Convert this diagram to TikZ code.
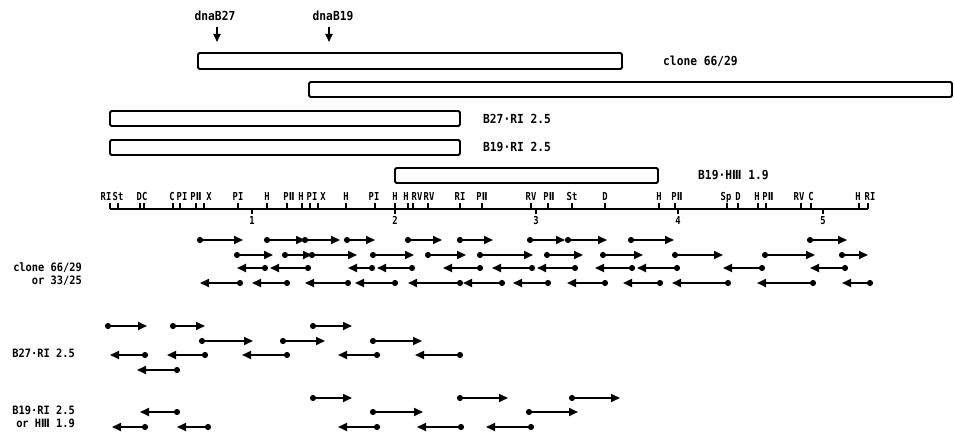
\documentclass[tikz,border=0pt]{standalone}
\usepackage{fontspec}
\setmainfont{DejaVu Sans Mono}
\newfontfamily\labfont{DejaVu Sans Mono}[FakeStretch=0.9]
\newfontfamily\sitefont{DejaVu Sans Mono}[FakeStretch=0.8]
\newfontfamily\romfont{DejaVu Sans}[FakeStretch=0.8]
\usepackage{tikz}
\usetikzlibrary{arrows.meta}
\newcommand{\romII}{{\romfont Ⅱ}}
\newcommand{\romIII}{{\romfont Ⅲ}}
\tikzset{
  clonebar/.style={draw, line width=1.8pt, rounded corners=1.5pt},
  toplab/.style={font=\labfont\fontsize{12.5}{14}\selectfont\bfseries, inner sep=0pt},
  sidelab/.style={font=\labfont\fontsize{11.5}{13.5}\selectfont\bfseries, inner sep=0pt, align=right},
  sitelab/.style={font=\sitefont\fontsize{11}{12}\selectfont\bfseries, inner sep=0pt, anchor=base},
  mapline/.style={line width=1.5pt},
  maptick/.style={line width=1.2pt},
  readarrow/.style={{Circle[length=6pt]}-{Triangle[length=9pt,width=8pt]},
                    line width=2pt, shorten <=-3pt},
  dnaarrow/.style={-{Triangle[length=8pt,width=7pt]}, line width=1.7pt, shorten <=6pt},
}

\begin{document}
\begin{tikzpicture}[x=1pt, y=-1pt]
  \useasboundingbox (0,0) rectangle (954,435);

  % dna mutations
  \node[toplab] (b27lab) at (215,16) {dnaB27};
  \node[toplab] (b19lab) at (333,16) {dnaB19};
  \coordinate (b27site) at (217,42);
  \coordinate (b19site) at (329,42);
  \draw[dnaarrow] (b27lab.south -| b27site) -- (b27site);
  \draw[dnaarrow] (b19lab.south -| b19site) -- (b19site);

  % clones and subclones
  \draw[clonebar] (198,53) rectangle (622,69);
  \draw[clonebar] (309,82) rectangle (952,97);
  \draw[clonebar] (110,111) rectangle (460,126);
  \draw[clonebar] (110,140) rectangle (460,155);
  \draw[clonebar] (395,168) rectangle (658,183);
  \node[toplab, anchor=west] (clonelab) at (663,61) {clone 66/29};
  \node[toplab, anchor=west] (b27rilab) at (483,119) {B27·RI 2.5};
  \node[toplab, anchor=west] (b19rilab) at (483,147) {B19·RI 2.5};
  \node[toplab, anchor=west] (b19hlab) at (698,175) {B19·H\romIII{} 1.9};

  % restriction map
  \draw[mapline] (110,209) -- (868,209);
  \foreach \t/\x/\l in {110/106/RI, 118/118/St, 140/142/DC, 173/172/C, 180/182/PI,
      196/196/P\romII, 204/209/X, 238/238/PI, 267/267/H, 287/289/P\romII,
      302/301/H, 310/312/PI, 318/323/X, 346/346/H, 375/374/PI, 395/395/H,
      408/406/H, 413/417/RV, 428/429/RV, 460/460/RI, 482/482/P\romII,
      531/531/RV, 548/549/P\romII, 572/572/St, 605/605/D, 659/659/H,
      675/677/P\romII, 727/726/Sp, 738/738/D, 758/757/H, 766/768/P\romII,
      801/799/RV, 811/811/C, 859/858/H, 868/870/RI}{
    \draw[maptick] (\t,209) -- (\t,203);
    \node[sitelab] (site\t) at (\x,201) {\l};
  }
  \draw[maptick] (144,209) -- (144,203);
  \foreach \k/\x in {1/252, 2/395, 3/536, 4/678, 5/823}{
    \draw[maptick] (\x,209) -- (\x,214);
    \node[sitelab] (kb\k) at (\x,225) {\k};
  }

  % clone 66/29 or 33/25
  \node[sidelab, anchor=east] (clonereads) at (82,274) {clone 66/29\\or 33/25};
  \foreach \a/\b in {200/243, 267/305, 305/340, 347/375, 408/442, 460/493,
      530/565, 568/607, 631/674, 810/847}
    \draw[readarrow] (\a,240) -- (\b,240);
  \foreach \a/\b in {237/273, 285/312, 312/357, 373/414, 428/466, 480/533,
      547/583, 603/643, 675/723, 765/815, 842/868}
    \draw[readarrow] (\a,255) -- (\b,255);
  \foreach \a/\b in {237/265, 270/308, 348/372, 377/412, 443/480, 492/532,
      537/575, 595/632, 637/677, 723/762, 810/845}
    \draw[readarrow] (\b,268) -- (\a,268);
  \foreach \a/\b in {200/240, 252/287, 305/348, 355/395, 408/460, 463/502,
      513/548, 567/605, 623/660, 672/728, 757/813, 842/870}
    \draw[readarrow] (\b,283) -- (\a,283);

  % B27 RI 2.5
  \node[sidelab, anchor=east] (b27reads) at (75,353) {B27·RI 2.5};
  \foreach \a/\b in {108/147, 173/205, 313/352}
    \draw[readarrow] (\a,326) -- (\b,326);
  \foreach \a/\b in {202/253, 283/325, 373/422}
    \draw[readarrow] (\a,341) -- (\b,341);
  \foreach \a/\b in {110/145, 167/205, 242/287, 338/377, 415/460}
    \draw[readarrow] (\b,355) -- (\a,355);
  \draw[readarrow] (177,370) -- (137,370);

  % B19 RI 2.5 or HIII 1.9
  \node[sidelab, anchor=east] (b19reads) at (75,417) {B19·RI 2.5\\or H\romIII{} 1.9};
  \foreach \a/\b in {313/352, 460/508, 572/620}
    \draw[readarrow] (\a,398) -- (\b,398);
  \foreach \a/\b in {373/423, 529/578}
    \draw[readarrow] (\a,412) -- (\b,412);
  \draw[readarrow] (177,412) -- (140,412);
  \foreach \a/\b in {112/145, 177/208, 338/377, 417/461, 486/531}
    \draw[readarrow] (\b,427) -- (\a,427);
\end{tikzpicture}
\end{document}
